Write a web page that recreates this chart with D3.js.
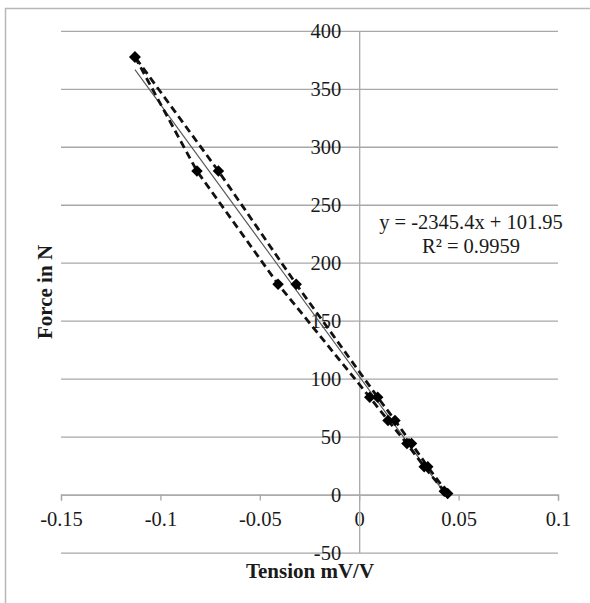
<!DOCTYPE html>
<html>
<head>
<meta charset="utf-8">
<script src="https://cdn.jsdelivr.net/npm/d3@7"></script>
<style>
  body { margin: 0; background: #fff; }
  text { font-family: "Liberation Serif", "Times New Roman", serif; fill: #1a1a1a; }
</style>
</head>
<body>
<div id="wrapper"></div>
<script>

// data
const loadTension = [0.0445, 0.0345, 0.0263, 0.0180, 0.0093, -0.0317, -0.0708, -0.1128]
const loadForce = [1, 24, 44, 64, 84, 181.5, 279, 377.5]
const unloadTension = [-0.1128, -0.0816, -0.0408, 0.0053, 0.0145, 0.0240, 0.0327, 0.0428]
const unloadForce = [377.5, 279, 181.5, 84, 64, 44, 24, 3]

const trendSlope = -2345.4
const trendIntercept = 101.95
const trendLabels = ["y = -2345.4x + 101.95", "R\u00B2 = 0.9959"]

const xTicks = [-0.15, -0.1, -0.05, 0, 0.05, 0.1]
const yTicks = [-50, 0, 50, 100, 150, 200, 250, 300, 350, 400]

const xTitle = "Tension mV/V"
const yTitle = "Force in N"


// dimensions
const dimensions = {
  width: 590,
  height: 603,
  plot: { left: 61, right: 558, top: 30.8, bottom: 552.6 },
}

const wrapper = d3.select("#wrapper")
  .append("svg")
    .attr("width", dimensions.width)
    .attr("height", dimensions.height)

// outer frame
wrapper.append("rect")
    .attr("x", 5.5)
    .attr("y", 8.5)
    .attr("width", 640)
    .attr("height", 640)
    .attr("fill", "none")
    .attr("stroke", "#b8b8b8")
    .attr("stroke-width", 1.5)


// scales
const xScale = d3.scaleLinear()
  .domain([-0.15, 0.1])
  .range([dimensions.plot.left, dimensions.plot.right])

const yScale = d3.scaleLinear()
  .domain([-50, 400])
  .range([dimensions.plot.bottom, dimensions.plot.top])

const plotWidth = dimensions.plot.right - dimensions.plot.left
const gridColor = "#a8a8a8"


// horizontal gridlines
const grid = wrapper.append("g")
    .attr("transform", `translate(${dimensions.plot.right},0)`)
    .call(d3.axisLeft(yScale)
      .tickValues(yTicks)
      .tickSize(plotWidth)
      .tickFormat(""))
grid.select(".domain").remove()
grid.selectAll("line")
    .attr("stroke", gridColor)
    .attr("stroke-width", 1.3)


// x axis through y = 0
const xAxis = wrapper.append("g")
    .attr("transform", `translate(0,${yScale(0)})`)
    .call(d3.axisBottom(xScale)
      .tickValues(xTicks)
      .tickSize(6)
      .tickPadding(11)
      .tickFormat(d => String(d)))
xAxis.select(".domain")
    .attr("stroke", gridColor)
    .attr("stroke-width", 1.3)
xAxis.selectAll("line")
    .attr("stroke", gridColor)
    .attr("stroke-width", 1.3)
xAxis.selectAll("text")
    .style("font-size", "20.5px")
    .style("font-family", "Liberation Serif, serif")
    .attr("fill", "#1a1a1a")


// y axis through x = 0
const yAxis = wrapper.append("g")
    .attr("transform", `translate(${xScale(0)},0)`)
    .call(d3.axisLeft(yScale)
      .tickValues(yTicks)
      .tickSize(0)
      .tickPadding(18)
      .tickFormat(d => String(d)))
yAxis.select(".domain")
    .attr("stroke", gridColor)
    .attr("stroke-width", 1.3)
yAxis.selectAll("text")
    .style("font-size", "20.5px")
    .style("font-family", "Liberation Serif, serif")
    .attr("fill", "#1a1a1a")


// trendline
const trendX = d3.extent(loadTension.concat(unloadTension))
wrapper.append("line")
    .attr("x1", xScale(trendX[0]))
    .attr("y1", yScale(trendSlope * trendX[0] + trendIntercept))
    .attr("x2", xScale(trendX[1]))
    .attr("y2", yScale(trendSlope * trendX[1] + trendIntercept))
    .attr("stroke", "#555")
    .attr("stroke-width", 1.1)


// dashed series with diamonds
const series = [
  loadTension.map((t, i) => ({ x: t, y: loadForce[i] })),
  unloadTension.map((t, i) => ({ x: t, y: unloadForce[i] })),
]

const lineGenerator = d3.line()
  .x(d => xScale(d.x))
  .y(d => yScale(d.y))

wrapper.selectAll(".series")
    .data(series)
  .join("path")
    .attr("class", "series")
    .attr("d", lineGenerator)
    .attr("fill", "none")
    .attr("stroke", "#111")
    .attr("stroke-width", 2.8)
    .attr("stroke-dasharray", "7.5,4.5")

const diamond = d3.symbol().type(d3.symbolSquare).size(66)
wrapper.selectAll(".marker")
    .data(series.flat())
  .join("path")
    .attr("class", "marker")
    .attr("d", diamond)
    .attr("transform", d => `translate(${xScale(d.x)},${yScale(d.y)}) rotate(45)`)
    .attr("fill", "#000")


// trendline label
wrapper.selectAll(".trendLabel")
    .data(trendLabels)
  .join("text")
    .attr("class", "trendLabel")
    .attr("x", 471)
    .attr("y", (d, i) => 222 + i * 24)
    .attr("text-anchor", "middle")
    .attr("dominant-baseline", "central")
    .style("font-size", "20.5px")
    .text(d => d)


// axis titles
wrapper.append("text")
    .attr("x", 310)
    .attr("y", 571)
    .attr("text-anchor", "middle")
    .attr("dominant-baseline", "central")
    .style("font-size", "21px")
    .style("font-weight", "bold")
    .text(xTitle)

wrapper.append("text")
    .attr("transform", "translate(45,292) rotate(-90)")
    .attr("text-anchor", "middle")
    .attr("dominant-baseline", "central")
    .style("font-size", "21px")
    .style("font-weight", "bold")
    .text(yTitle)

</script>
</body>
</html>
